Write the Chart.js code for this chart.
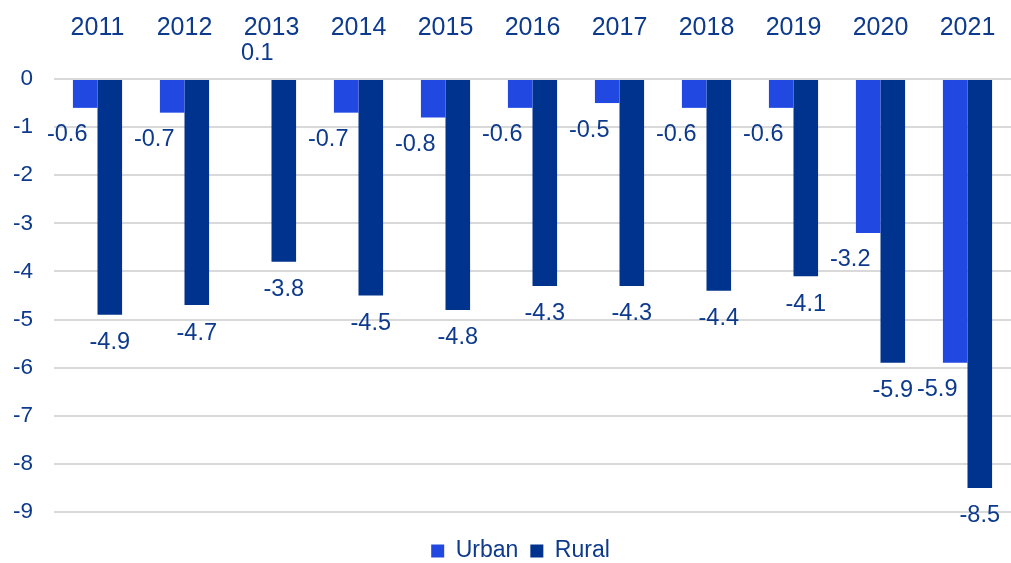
<!DOCTYPE html>
<html>
<head>
<meta charset="utf-8">
<script src="https://cdn.jsdelivr.net/npm/chart.js@4/dist/chart.umd.min.js"></script>
<style>
  html, body { margin: 0; padding: 0; background: #ffffff; }
  #wrap { width: 1011px; height: 563px; position: relative; }
</style>
</head>
<body>
<div id="wrap"><canvas id="c"></canvas></div>
<script>
// ---- Data ----
const categories = ['2011', '2012', '2013', '2014', '2015', '2016', '2017', '2018', '2019', '2020', '2021'];
const urbanValues = [-0.6, -0.7, 0.1, -0.7, -0.8, -0.6, -0.5, -0.6, -0.6, -3.2, -5.9];
const ruralValues = [-4.9, -4.7, -3.8, -4.5, -4.8, -4.3, -4.3, -4.4, -4.1, -5.9, -8.5];
const seriesNames = ['Urban', 'Rural'];
const yTickValues = [0, -1, -2, -3, -4, -5, -6, -7, -8, -9];

// ---- Styles ----
const textColor = '#0d3a8c';
const urbanColor = '#2149e1';
const ruralColor = '#00338d';
const gridColor = '#d9d9d9';
const fontFamily = '"Liberation Sans", Arial, Helvetica, sans-serif';

Chart.defaults.font.family = fontFamily;
Chart.defaults.font.size = 23;
Chart.defaults.color = textColor;

const valueLabels = {
  id: 'valueLabels',
  afterDatasetsDraw(chart, args, opts) {
    const ctx = chart.ctx;
    ctx.save();
    ctx.font = opts.fontSize + 'px ' + fontFamily;
    ctx.fillStyle = textColor;
    ctx.textAlign = 'center';
    ctx.textBaseline = 'middle';
    chart.data.datasets.forEach((ds, di) => {
      const meta = chart.getDatasetMeta(di);
      const off = opts.offsets[di];
      meta.data.forEach((bar, i) => {
        const v = ds.data[i];
        if (v < 0) {
          ctx.fillText(String(v), bar.x + off.dx, bar.y + off.neg);
        } else {
          ctx.fillText(String(v), bar.x + off.pdx, bar.y - off.pos);
        }
      });
    });
    ctx.restore();
  }
};

const legendShift = {
  id: 'legendShift',
  afterLayout(chart) {
    const l = chart.legend;
    if (!l) return;
    l.top += 15.5; l.bottom += 15.5;
    l.left += 15; l.right += 15;
  }
};

new Chart(document.getElementById('c'), {
  type: 'bar',
  data: {
    labels: categories,
    datasets: [
      { label: seriesNames[0], data: urbanValues, backgroundColor: urbanColor, borderWidth: 0, clip: 0,
        categoryPercentage: 0.565, barPercentage: 1 },
      { label: seriesNames[1], data: ruralValues, backgroundColor: ruralColor, borderWidth: 0, clip: 0,
        categoryPercentage: 0.565, barPercentage: 1 }
    ]
  },
  options: {
    responsive: true,
    maintainAspectRatio: false,
    animation: false,
    layout: { padding: { top: 0, left: 0, right: 0, bottom: 6 } },
    scales: {
      x: {
        position: 'top',
        grid: { display: false },
        border: { display: false },
        ticks: { padding: 28, maxRotation: 0, autoSkip: false, color: textColor, font: { size: 25 } },
        afterFit(s) { s.height = 79; s.paddingLeft = 0; s.paddingRight = 0; }
      },
      y: {
        min: Math.min(...yTickValues),
        max: Math.max(...yTickValues),
        grid: { color: gridColor, lineWidth: 2, drawTicks: false },
        border: { display: false },
        afterBuildTicks(s) { s.ticks = yTickValues.map(v => ({ value: v })); },
        ticks: { padding: 21, color: textColor, font: { size: 22.5 }, callback: v => String(v) },
        afterFit(s) { s.width = 54; s.paddingTop = 0; s.paddingBottom = 0; }
      }
    },
    plugins: {
      legend: {
        position: 'bottom',
        labels: { boxWidth: 13, boxHeight: 13, padding: 12, color: textColor, font: { size: 23 } }
      },
      tooltip: { enabled: false },
      valueLabels: {
        fontSize: 23.5,
        offsets: [
          { dx: -18, neg: 27, pdx: -2, pos: 21 },
          { dx: 0, neg: 28, pdx: 0, pos: 21 }
        ]
      }
    }
  },
  plugins: [valueLabels, legendShift]
});
</script>
</body>
</html>
